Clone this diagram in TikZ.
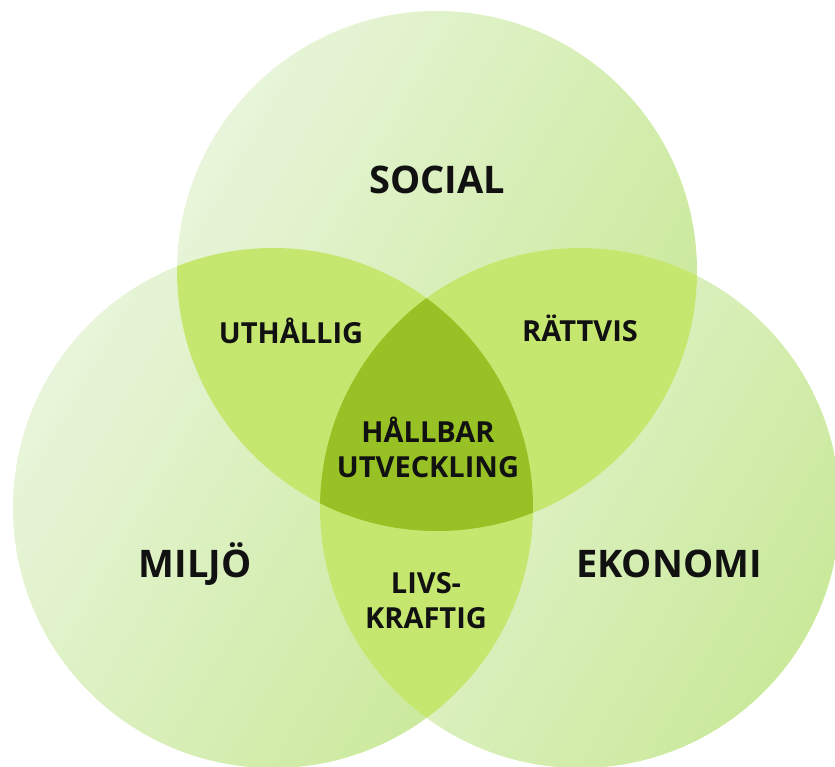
\documentclass[tikz,border=0pt]{standalone}
\usepackage{fontspec}
\setmainfont{Open Sans}
\definecolor{cLight}{HTML}{E8F5DA}
\definecolor{cDark}{HTML}{CAE99A}
\definecolor{cPair}{HTML}{C6E76F}
\definecolor{cTriple}{HTML}{97C124}
\definecolor{cText}{HTML}{111111}
\tikzset{
  ring/.style={left color=cLight, right color=cDark, shading angle=60},
  bigtext/.style={font=\bfseries\fontsize{38}{42}\selectfont, text=cText, anchor=base, inner sep=0pt},
  smalltext/.style={font=\bfseries\fontsize{29}{35}\selectfont, text=cText, anchor=base, inner sep=0pt, align=center},
}
\begin{document}
\begin{tikzpicture}[x=1pt,y=-1pt]
\useasboundingbox (0,0) rectangle (835,766);
\coordinate (T) at (437,271);
\coordinate (L) at (273,508);
\coordinate (R) at (580,508);
\def\rad{260}
\shade[ring] (T) circle[radius=\rad];
\shade[ring] (L) circle[radius=\rad];
\shade[ring] (R) circle[radius=\rad];
\begin{scope}
  \clip (T) circle[radius=\rad];
  \fill[cPair] (L) circle[radius=\rad];
  \fill[cPair] (R) circle[radius=\rad];
\end{scope}
\begin{scope}
  \clip (L) circle[radius=\rad];
  \fill[cPair] (R) circle[radius=\rad];
\end{scope}
\begin{scope}
  \clip (T) circle[radius=\rad];
  \clip (L) circle[radius=\rad];
  \fill[cTriple] (R) circle[radius=\rad];
\end{scope}
\node[bigtext] (social) at (437,193) {SOCIAL};
\node[bigtext] (miljo) at (195,577) {MILJÖ};
\node[bigtext] (ekonomi) at (669,577) {EKONOMI};
\node[smalltext] (uth) at (291,343) {UTHÅLLIG};
\node[smalltext] (ratt) at (580,341) {RÄTTVIS};
\node[smalltext] (hall) at (428,477) {HÅLLBAR\\UTVECKLING};
\node[smalltext] (livs) at (426,628) {LIVS-\\KRAFTIG};
\end{tikzpicture}
\end{document}
